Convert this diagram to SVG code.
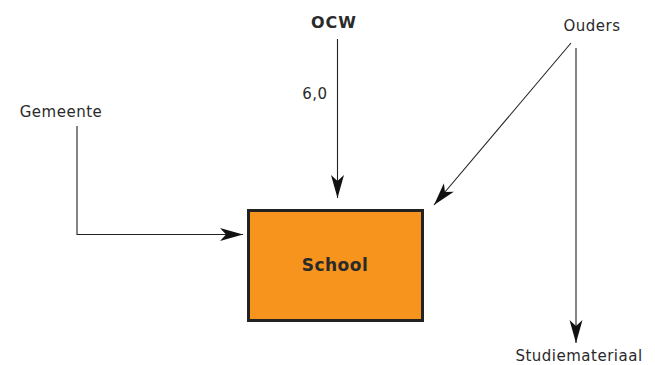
<svg xmlns="http://www.w3.org/2000/svg" width="655" height="365" viewBox="0 0 655 365">
<style>
text{font-family:"DejaVu Sans","Liberation Sans",sans-serif;fill:#2a2a2a}
.lbl{font-size:15px;letter-spacing:0.5px}
.b{font-weight:bold;font-size:16px;letter-spacing:1px}
.c{fill:none;stroke:#222;stroke-width:1.1}
</style>
<defs>
<marker id="ah" markerUnits="userSpaceOnUse" markerWidth="24" markerHeight="14" refX="23" refY="6.5" orient="auto">
<path d="M0,0 L23,6.5 L0,13 L6,6.5 z" fill="#111"/>
</marker>
</defs>
<rect width="655" height="365" fill="#fff"/>
<g id="connectors">
<path class="c" d="M337.5,39 V198" marker-end="url(#ah)"/>
<path class="c" d="M77,126 V234.5 H243" marker-end="url(#ah)"/>
<path class="c" d="M571,43 L434,205" marker-end="url(#ah)"/>
<path class="c" d="M576,48 V343" marker-end="url(#ah)"/>
</g>
<g id="school">
<rect x="248.5" y="210.5" width="174" height="110" fill="#f7941d" stroke="#222" stroke-width="3"/>
<text class="b" x="335" y="271" text-anchor="middle" style="font-size:17px;letter-spacing:0.5px">School</text>
</g>
<g id="ocw"><text class="b" x="334" y="28" text-anchor="middle">OCW</text></g>
<g id="label-6"><text class="lbl" x="315" y="99" text-anchor="middle">6,0</text></g>
<g id="gemeente"><text class="lbl" x="61" y="117" text-anchor="middle">Gemeente</text></g>
<g id="ouders"><text class="lbl" x="592" y="31" text-anchor="middle">Ouders</text></g>
<g id="studiemateriaal"><text class="lbl" x="579" y="361" text-anchor="middle">Studiemateriaal</text></g>
</svg>
